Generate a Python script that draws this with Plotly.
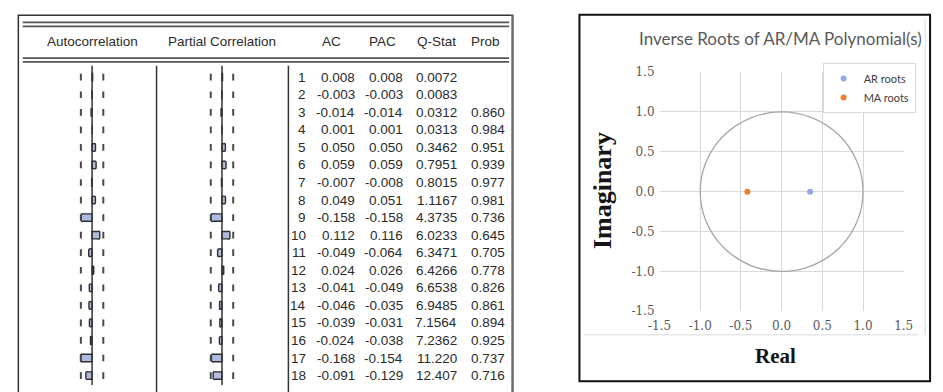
import plotly.graph_objects as go

# ---------------- data ----------------
lags = list(range(1, 19))
ac = [0.008, -0.003, -0.014, 0.001, 0.050, 0.059, -0.007, 0.049, -0.158, 0.112,
      -0.049, 0.024, -0.041, -0.046, -0.039, -0.024, -0.168, -0.091]
pac = [0.008, -0.003, -0.014, 0.001, 0.050, 0.059, -0.008, 0.051, -0.158, 0.116,
       -0.064, 0.026, -0.049, -0.035, -0.031, -0.038, -0.154, -0.129]
qstat = [0.0072, 0.0083, 0.0312, 0.0313, 0.3462, 0.7951, 0.8015, 1.1167, 4.3735,
         6.0233, 6.3471, 6.4266, 6.6538, 6.9485, 7.1564, 7.2362, 11.220, 12.407]
prob = [None, None, 0.860, 0.984, 0.951, 0.939, 0.977, 0.981, 0.736, 0.645,
        0.705, 0.778, 0.826, 0.861, 0.894, 0.925, 0.737, 0.716]
conf_bound = 0.164
header_labels = ["Autocorrelation", "Partial Correlation", "AC", "PAC", "Q-Stat", "Prob"]

ar_re = [0.35]
ar_im = [0.0]
ma_re = [-0.42]
ma_im = [0.0]
root_ticks = [-1.5, -1.0, -0.5, 0.0, 0.5, 1.0, 1.5]
root_title = "Inverse Roots of AR/MA Polynomial(s)"

# ---------------- layout helpers (pixel geometry) ----------------
W, H = 943, 392
def px(x):
    return x / W
def py(y):
    return 1 - y / H

ROW1_Y, ROW_DY = 72.8, 18.2
L_top = 1 - ROW1_Y / ROW_DY
L_bot = 1 + (H - ROW1_Y) / ROW_DY

SCALE = 70.0  # px per correlation unit
def corr_axis(left, right, center):
    return dict(domain=[px(left), px(right)],
                range=[(left - center) / SCALE, (right - center) / SCALE],
                visible=False, anchor="y", fixedrange=True)

AC_C, PAC_C = 82, 215
TXT = "#2b2b2b"
tfont = dict(family="Liberation Sans, Arial, sans-serif", size=13.5, color=TXT)

fig = go.Figure()

bar_style = dict(orientation="h", width=0.42, showlegend=False, hoverinfo="skip",
                 marker=dict(color="#b1bbe0", cornerradius=2,
                             line=dict(color="#2e2e2e", width=1.4)))
fig.add_trace(go.Bar(x=ac, y=lags, xaxis="x", yaxis="y", **bar_style))
fig.add_trace(go.Bar(x=pac, y=lags, xaxis="x2", yaxis="y", **bar_style))

dash_marker = dict(symbol="line-ns", size=4.8, line=dict(width=2, color="#4a4a4a"))
for xa in ["x", "x2"]:
    fig.add_trace(go.Scatter(x=[-conf_bound] * len(lags) + [conf_bound] * len(lags),
                             y=lags + lags, mode="markers", xaxis=xa, yaxis="y",
                             marker=dash_marker, showlegend=False, hoverinfo="skip"))

# roots chart
fig.add_trace(go.Scatter(x=ar_re, y=ar_im, mode="markers", name="AR roots",
                         xaxis="x3", yaxis="y3",
                         marker=dict(color="#8faadc", size=6, line=dict(width=0))))
fig.add_trace(go.Scatter(x=ma_re, y=ma_im, mode="markers", name="MA roots",
                         xaxis="x3", yaxis="y3",
                         marker=dict(color="#ed7d31", size=6, line=dict(width=0))))

shapes = []
def pline(x0, y0, x1, y1, color, width):
    shapes.append(dict(type="line", xref="paper", yref="paper",
                       x0=px(x0), y0=py(y0), x1=px(x1), y1=py(y1),
                       line=dict(color=color, width=width)))

# left panel frame
pline(6.5, 8, 6.5, 400, "#333333", 1.5)
pline(6, 8.5, 513, 8.5, "#333333", 1.5)
pline(512.5, 8, 512.5, 400, "#6e6e6e", 2.5)
for yy in (16, 20, 53, 57):
    pline(11, yy, 509, yy, "#555555", 1.8)
# column dividers
for xx in (148, 283):
    pline(xx, 61, xx, 400, "#333333", 1.5)
# zero lines of correlograms
for xa in ("x", "x2"):
    shapes.append(dict(type="line", xref=xa, yref="paper", x0=0, x1=0,
                       y0=0, y1=py(61), line=dict(color="#333333", width=1.5)))

# right panel frame
shapes.append(dict(type="rect", xref="paper", yref="paper",
                   x0=px(581), x1=px(940), y0=py(388), y1=py(8),
                   line=dict(color="#111111", width=2)))
pline(585, 340, 928, 340, "#d9d9d9", 1)
pline(935, 12, 935, 340, "#d9d9d9", 1)
# unit circle
shapes.append(dict(type="circle", xref="x3", yref="y3", x0=-1, x1=1, y0=-1, y1=1,
                   line=dict(color="#a6a6a6", width=1.3)))

annotations = []
# headers
hdr_x = [82, 215, 327, 379, 435, 485]
for lab, xx in zip(header_labels, hdr_x):
    annotations.append(dict(text=lab, xref="paper", yref="paper", x=px(xx), y=py(36),
                            xanchor="center", yanchor="middle", showarrow=False, font=tfont))

def fmt3(v):
    return f"{v:.3f}"
def fmtq(v):
    return f"{v:.4f}" if v < 10 else f"{v:.3f}"

columns = [
    ([str(l) for l in lags], 303),
    ([fmt3(v) for v in ac], 353),
    ([fmt3(v) for v in pac], 402),
    ([fmtq(v) for v in qstat], 458),
    (["" if v is None else fmt3(v) for v in prob], 507),
]
for texts, xr in columns:
    for lag, t in zip(lags, texts):
        if t == "":
            continue
        annotations.append(dict(text=t, xref="paper", yref="y", x=px(xr), y=lag,
                                xanchor="right", yanchor="middle", showarrow=False,
                                font=tfont))

annotations.append(dict(text=root_title, xref="paper", yref="paper", x=px(787), y=py(33),
                        xanchor="center", yanchor="middle", showarrow=False,
                        font=dict(family="Lato, sans-serif", size=17, color="#595959")))
annotations.append(dict(text="<b>Imaginary</b>", xref="paper", yref="paper", x=px(604), y=py(190),
                        xanchor="center", yanchor="middle", showarrow=False, textangle=-90,
                        font=dict(family="Liberation Serif, serif", size=26, color="#151515")))
annotations.append(dict(text="<b>Real</b>", xref="paper", yref="paper", x=px(782), y=py(362),
                        xanchor="center", yanchor="middle", showarrow=False,
                        font=dict(family="Liberation Serif, serif", size=21, color="#151515")))

tick_font = dict(family="DejaVu Serif, serif", size=12, color="#595959")
root_axis = dict(range=[-1.5, 1.5], tickvals=root_ticks,
                 ticktext=[f"{v:.1f}" for v in root_ticks], showgrid=True,
                 gridcolor="#d9d9d9", gridwidth=1, zeroline=False, showline=False,
                 ticks="", tickfont=tick_font, fixedrange=True)

fig.update_layout(
    width=W, height=H, autosize=False,
    margin=dict(l=0, r=0, t=0, b=0),
    paper_bgcolor="white", plot_bgcolor="white",
    barmode="overlay", bargap=0,
    xaxis=corr_axis(8, 146, AC_C),
    xaxis2=corr_axis(150, 281, PAC_C),
    yaxis=dict(domain=[0, 1], range=[L_bot, L_top], visible=False, fixedrange=True),
    xaxis3=dict(domain=[px(663), px(913)], anchor="y3", ticklabelstandoff=6, **root_axis),
    yaxis3=dict(domain=[py(315.5), py(67.5)], anchor="x3", ticklabelstandoff=4, **root_axis),
    showlegend=True,
    legend=dict(x=px(830), y=py(58), xanchor="left", yanchor="top",
                bordercolor="#d9d9d9", borderwidth=1, bgcolor="white",
                font=dict(family="Lato, sans-serif", size=11, color="#404040"),
                itemwidth=30, tracegroupgap=0),
    shapes=shapes,
    annotations=annotations,
)

fig.write_html("out.html", config={"displayModeBar": False, "staticPlot": True},
               post_script="document.body.style.margin='0';document.body.style.padding='0';"
                           "document.documentElement.style.overflow='hidden';")
